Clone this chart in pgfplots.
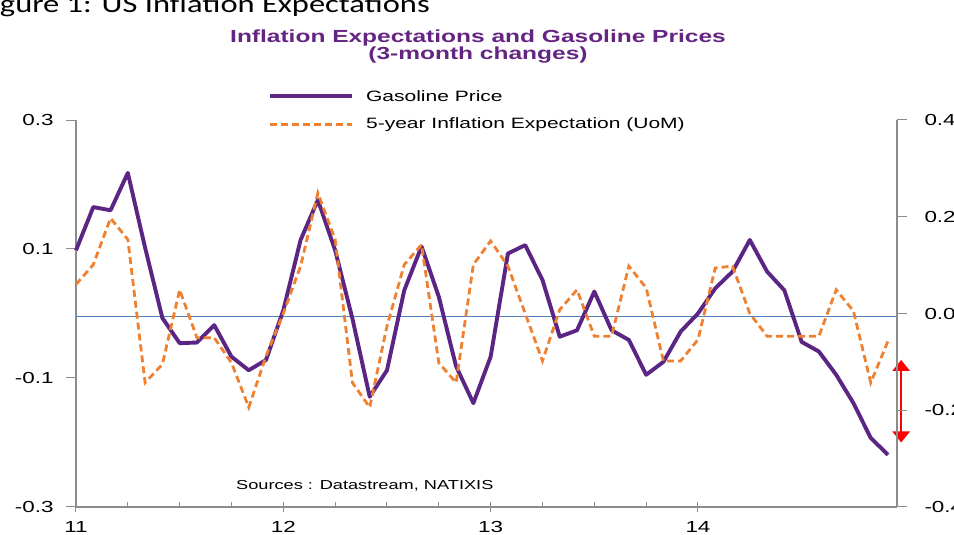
\documentclass[border=0pt]{standalone}
\usepackage{fontspec}
\usepackage{pgfplots}
\pgfplotsset{compat=1.18}
\usepackage{pgfplotstable}
\usetikzlibrary{arrows.meta}
\setmainfont{Liberation Sans}
\newfontfamily\axfont[FakeStretch=1.4]{Liberation Sans}
\newfontfamily\titlefont[FakeStretch=1.4]{Liberation Sans Bold}
\newfontfamily\capfont[FakeStretch=1.3]{Carlito}
\definecolor{purp}{RGB}{91,38,131}
\definecolor{titlec}{RGB}{100,36,130}
\definecolor{orng}{RGB}{238,128,48}
\definecolor{zline}{RGB}{79,129,189}
\definecolor{axgray}{RGB}{140,140,140}

\pgfplotstableread{
m gas
0 0.098
1 0.165
2 0.160
3 0.218
4 0.102
5 -0.007
6 -0.046
7 -0.045
8 -0.018
9 -0.067
10 -0.088
11 -0.072
12 0.005
13 0.114
14 0.176
15 0.098
16 -0.008
17 -0.129
18 -0.088
19 0.036
20 0.104
21 0.026
22 -0.082
23 -0.139
24 -0.067
25 0.093
26 0.106
27 0.052
28 -0.036
29 -0.026
30 0.034
31 -0.026
32 -0.041
33 -0.095
34 -0.075
35 -0.028
36 0.000
37 0.039
38 0.065
39 0.114
40 0.065
41 0.036
42 -0.044
43 -0.059
44 -0.095
45 -0.139
46 -0.193
47 -0.219
}\gasdata

\pgfplotstableread{
m inf
0 0.060
1 0.101
2 0.197
3 0.153
4 -0.143
5 -0.105
6 0.049
7 -0.050
8 -0.050
9 -0.102
10 -0.194
11 -0.088
12 0.000
13 0.098
14 0.249
15 0.153
16 -0.143
17 -0.194
18 -0.026
19 0.101
20 0.142
21 -0.102
22 -0.143
23 0.101
24 0.150
25 0.098
26 0.000
27 -0.098
28 0.008
29 0.049
30 -0.047
31 -0.047
32 0.098
33 0.053
34 -0.098
35 -0.098
36 -0.054
37 0.094
38 0.098
39 0.000
40 -0.047
41 -0.047
42 -0.047
43 -0.047
44 0.049
45 0.005
46 -0.143
47 -0.057
}\infdata

\begin{document}
\begin{tikzpicture}[x=1pt,y=1pt]
\useasboundingbox (-76,-28) rectangle (878,507);
\begin{axis}[
  at={(0pt,0pt)}, anchor=south west,
  scale only axis, width=821pt, height=387pt,
  xmin=11, xmax=14.96, ymin=-0.3, ymax=0.3,
  clip=false,
  axis x line*=bottom, axis y line*=left,
  axis line style={-, draw=axgray, line width=1.6pt},
  tick align=outside,
  major tick length=10pt, minor tick length=4pt,
  tick style={draw=axgray, line width=1pt},
  xtick style={yshift=5pt},
  xtick={11,12,13,14}, xticklabels={11,12,13,14},
  minor x tick num=3,
  ytick={-0.3,-0.1,0.1,0.3}, yticklabels={-0.3,-0.1,0.1,0.3},
  ticklabel style={font=\axfont\fontsize{16}{16}\selectfont},
  yticklabel style={xshift=-9pt},
  xticklabel style={yshift=-1pt},
]
\addplot[zline, line width=0.8pt] coordinates {(11,-0.005) (14.96,-0.005)};
\addplot[purp, line width=3.9pt, line join=round] table[x expr=11+\thisrow{m}/12, y=gas]{\gasdata};
\draw[red, line width=2.5pt, {Triangle[width=17pt,length=11pt]}-{Triangle[width=17pt,length=11pt]}] (axis cs:14.98,-0.072) -- (axis cs:14.98,-0.2);
\end{axis}
\begin{axis}[
  at={(0pt,0pt)}, anchor=south west,
  scale only axis, width=821pt, height=387pt,
  xmin=11, xmax=14.96, ymin=-0.4, ymax=0.4,
  axis x line=none, axis y line*=right,
  axis line style={-, draw=axgray, line width=1.6pt},
  tick align=outside,
  major tick length=10pt,
  tick style={draw=axgray, line width=1pt},
  ytick={-0.4,-0.2,0,0.2,0.4}, yticklabels={-0.4,-0.2,0.0,0.2,0.4},
  ticklabel style={font=\axfont\fontsize{16}{16}\selectfont},
  yticklabel style={xshift=14pt},
  legend style={draw=none, fill=none, at={(0.2339,1.0827)}, anchor=north west,
    font=\axfont\fontsize{15}{15}\selectfont, row sep=11.5pt, column sep=10pt, inner sep=0pt},
  legend cell align=left,
  legend image code/.code={\draw[#1] (0pt,0pt) -- (82pt,0pt);},
]
\addlegendimage{purp, line width=3.9pt}
\addlegendentry{Gasoline Price}
\addplot[orng, line width=2.8pt, dash pattern=on 7pt off 4pt] table[x expr=11+\thisrow{m}/12, y=inf]{\infdata};
\addlegendentry{5-year Inflation Expectation (UoM)}
\end{axis}
\node[anchor=base east, inner sep=0pt, font=\capfont\fontsize{25}{25}\selectfont] at (354,494) {Figure 1: US Inflation Expectations};
\node[inner sep=0pt, text=titlec, font=\titlefont\fontsize{17.5}{17.5}\selectfont] at (402,469) {Inflation Expectations and Gasoline Prices};
\node[inner sep=0pt, text=titlec, font=\titlefont\fontsize{17.5}{17.5}\selectfont] at (402,452) {(3-month changes)};
\node[anchor=west, inner sep=0pt, font=\axfont\fontsize{13}{13}\selectfont] at (160,21) {Sources : Datastream, NATIXIS};
\end{tikzpicture}
\end{document}
